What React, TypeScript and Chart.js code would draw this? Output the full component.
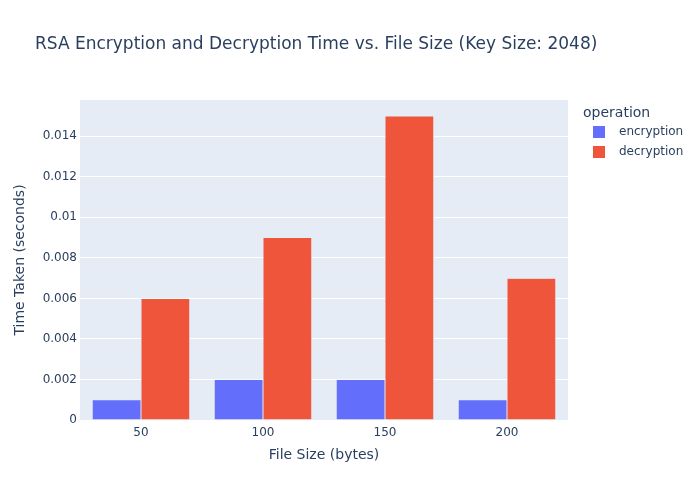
import React, { useEffect, useRef } from "react";
import { Chart, registerables } from "chart.js";

Chart.register(...registerables);

const categories = ["50", "100", "150", "200"];
const encryption = [0.001, 0.002, 0.002, 0.001];
const decryption = [0.006, 0.009, 0.015, 0.007];
const yTicks = [0, 0.002, 0.004, 0.006, 0.008, 0.01, 0.012, 0.014];
const yMax = 0.01579;

const chartTitle = "RSA Encryption and Decryption Time vs. File Size (Key Size: 2048)";
const xTitle = "File Size (bytes)";
const yTitle = "Time Taken (seconds)";
const legendTitle = "operation";
const seriesNames = ["encryption", "decryption"];
const seriesColors = ["#636EFA", "#EF553B"];

const FONT = '"DejaVu Sans", verdana, arial, sans-serif';
const TXT = "#2a3f5f";

export default function App() {
  const ref = useRef<HTMLCanvasElement | null>(null);
  useEffect(() => {
    document.body.style.margin = "0";
    const decor = {
      id: "decor",
      beforeDraw(chart: any) {
        const { ctx, chartArea } = chart;
        ctx.save();
        ctx.fillStyle = "#ffffff";
        ctx.fillRect(0, 0, chart.width, chart.height);
        ctx.fillStyle = "#E5ECF6";
        ctx.fillRect(chartArea.left, chartArea.top, chartArea.right - chartArea.left, chartArea.bottom - chartArea.top);
        ctx.restore();
      },
      afterDraw(chart: any) {
        const { ctx, chartArea } = chart;
        ctx.save();
        ctx.fillStyle = TXT;
        ctx.textBaseline = "middle";
        ctx.font = `17px ${FONT}`;
        ctx.textAlign = "left";
        ctx.fillText(chartTitle, 35, 45);
        ctx.font = `14px ${FONT}`;
        ctx.textAlign = "center";
        ctx.fillText(xTitle, (chartArea.left + chartArea.right) / 2, 455);
        ctx.save();
        ctx.translate(20, (chartArea.top + chartArea.bottom) / 2);
        ctx.rotate(-Math.PI / 2);
        ctx.fillText(yTitle, 0, 0);
        ctx.restore();
        ctx.textAlign = "left";
        ctx.font = `14px ${FONT}`;
        ctx.fillText(legendTitle, 583, 113);
        ctx.font = `12px ${FONT}`;
        seriesNames.forEach((n, i) => {
          const cy = 132 + i * 20;
          ctx.fillStyle = seriesColors[i];
          ctx.fillRect(593, cy - 6, 12, 12);
          ctx.fillStyle = TXT;
          ctx.fillText(n, 619, cy);
        });
        ctx.restore();
      },
    };
    const chart = new Chart(ref.current as HTMLCanvasElement, {
      type: "bar",
      data: {
        labels: categories,
        datasets: [
          { label: seriesNames[0], data: encryption, backgroundColor: seriesColors[0], borderColor: "#E5ECF6", borderWidth: 0.5 },
          { label: seriesNames[1], data: decryption, backgroundColor: seriesColors[1], borderColor: "#E5ECF6", borderWidth: 0.5 },
        ],
      },
      options: {
        animation: false,
        responsive: false,
        layout: { padding: { top: 100, right: 132, left: 0, bottom: 0 } },
        plugins: { legend: { display: false }, title: { display: false }, tooltip: { enabled: false } },
        datasets: { bar: { categoryPercentage: 0.8, barPercentage: 1.0 } },
        scales: {
          x: {
            grid: { display: false, drawTicks: false },
            border: { display: false },
            ticks: { color: TXT, font: { family: FONT, size: 12 }, padding: 6, maxRotation: 0 },
            afterFit(s: any) { s.height = 80; },
          },
          y: {
            min: 0,
            max: yMax,
            grid: { color: "#ffffff", lineWidth: 1, drawTicks: false },
            border: { display: false },
            ticks: {
              color: TXT,
              font: { family: FONT, size: 12 },
              padding: 3,
              callback: (v: any) => String(+Number(v).toFixed(3)),
            },
            afterBuildTicks(s: any) { s.ticks = yTicks.map((v) => ({ value: v })); },
            afterFit(s: any) { s.width = 80; },
          },
        },
      },
      plugins: [decor],
    } as any);
    return () => chart.destroy();
  }, []);
  return (
    <div style={{ width: 700, height: 500 }}>
      <canvas ref={ref} width={700} height={500} />
    </div>
  );
}
